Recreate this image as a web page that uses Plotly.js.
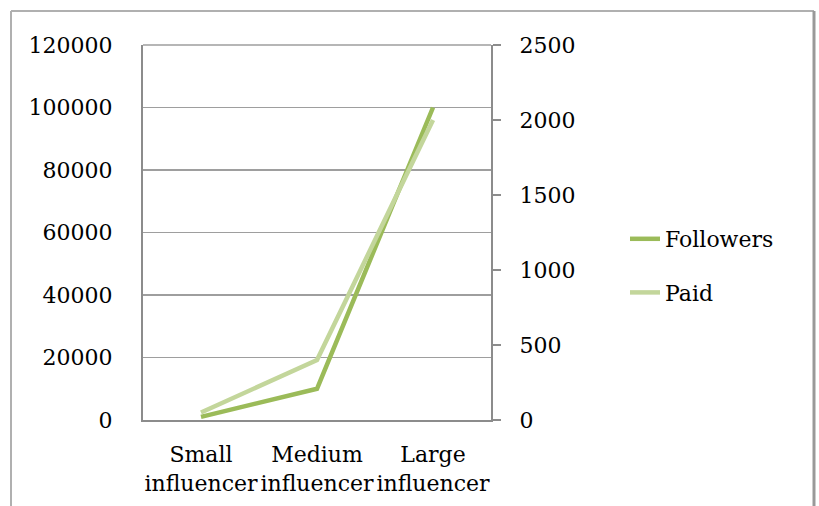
<!DOCTYPE html>
<html>
<head>
<meta charset="utf-8">
<script src="https://cdn.plot.ly/plotly-3.0.1.min.js"></script>
<style>html,body{margin:0;padding:0;background:#fff;}#chart{width:819px;height:506px;}</style>
</head>
<body>
<div id="chart"></div>
<script>
const categories = ["Small<br>influencer", "Medium<br>influencer", "Large<br>influencer"];
const followers = [1000, 10000, 100000];
const paid = [50, 400, 2000];
const leftTicks = [0, 20000, 40000, 60000, 80000, 100000, 120000];
const rightTicks = [0, 500, 1000, 1500, 2000, 2500];

const W = 819, H = 506;
const L = 143, R = 491, T = 45, B = 420;
const px = x => (x - L) / (R - L);
const py = y => (B - y) / (B - T);

const font = {family: "DejaVu Serif, serif", size: 22, color: "#000"};

const traces = [
  {x: categories, y: followers, name: "Followers", type: "scatter", mode: "lines",
   line: {color: "#9BBB59", width: 4.5}, yaxis: "y", legendgroup: "a"},
  {x: categories, y: paid, name: "Paid", type: "scatter", mode: "lines",
   line: {color: "#C3D69B", width: 4.5}, yaxis: "y2", legendgroup: "b"}
];

const gray = "#b0b0b0";
const grid = "#9e9e9e";
const layout = {
  width: W, height: H,
  margin: {l: L, r: W - R, t: T, b: H - B, pad: 0},
  paper_bgcolor: "#fff", plot_bgcolor: "#fff",
  font: font,
  showlegend: true,
  legend: {x: px(625), xanchor: "left", y: py(266), yanchor: "middle",
           font: font, tracegroupgap: 22, traceorder: "grouped", bgcolor: "rgba(0,0,0,0)"},
  xaxis: {type: "category", range: [-0.5, 2.5], showgrid: false, showline: true,
          linecolor: "#8c8c8c", linewidth: 2, ticks: "", tickfont: font,
          ticklabelstandoff: 14, zeroline: false, fixedrange: true},
  yaxis: {range: [0, 120000], tickvals: leftTicks, ticktext: leftTicks.map(String),
          showgrid: true, gridcolor: grid, gridwidth: 1.6, showline: true,
          linecolor: "#8c8c8c", linewidth: 2, ticks: "", tickfont: font,
          ticklabelstandoff: 24, zeroline: false, fixedrange: true},
  yaxis2: {range: [0, 2500], tickvals: rightTicks, ticktext: rightTicks.map(String),
           overlaying: "y", side: "right", showgrid: false, showline: true,
           linecolor: "#8c8c8c", linewidth: 2, ticks: "outside", ticklen: 8,
           tickcolor: "#8c8c8c", tickwidth: 2, tickfont: font, ticklabelstandoff: 14,
           zeroline: false, fixedrange: true},
  shapes: [
    {type: "line", xref: "paper", yref: "paper", x0: 0, x1: 1, y0: 1, y1: 1,
     line: {color: grid, width: 1.6}, layer: "below"},
    {type: "line", xref: "paper", yref: "paper", x0: px(11), x1: px(11), y0: py(11), y1: py(510),
     line: {color: gray, width: 2}, layer: "below"},
    {type: "line", xref: "paper", yref: "paper", x0: px(11), x1: px(814), y0: py(11), y1: py(11),
     line: {color: gray, width: 2}, layer: "below"},
    {type: "line", xref: "paper", yref: "paper", x0: px(814), x1: px(814), y0: py(11), y1: py(510),
     line: {color: "#999", width: 3}, layer: "below"}
  ]
};

Plotly.newPlot("chart", traces, layout, {displayModeBar: false, staticPlot: true});
</script>
</body>
</html>
